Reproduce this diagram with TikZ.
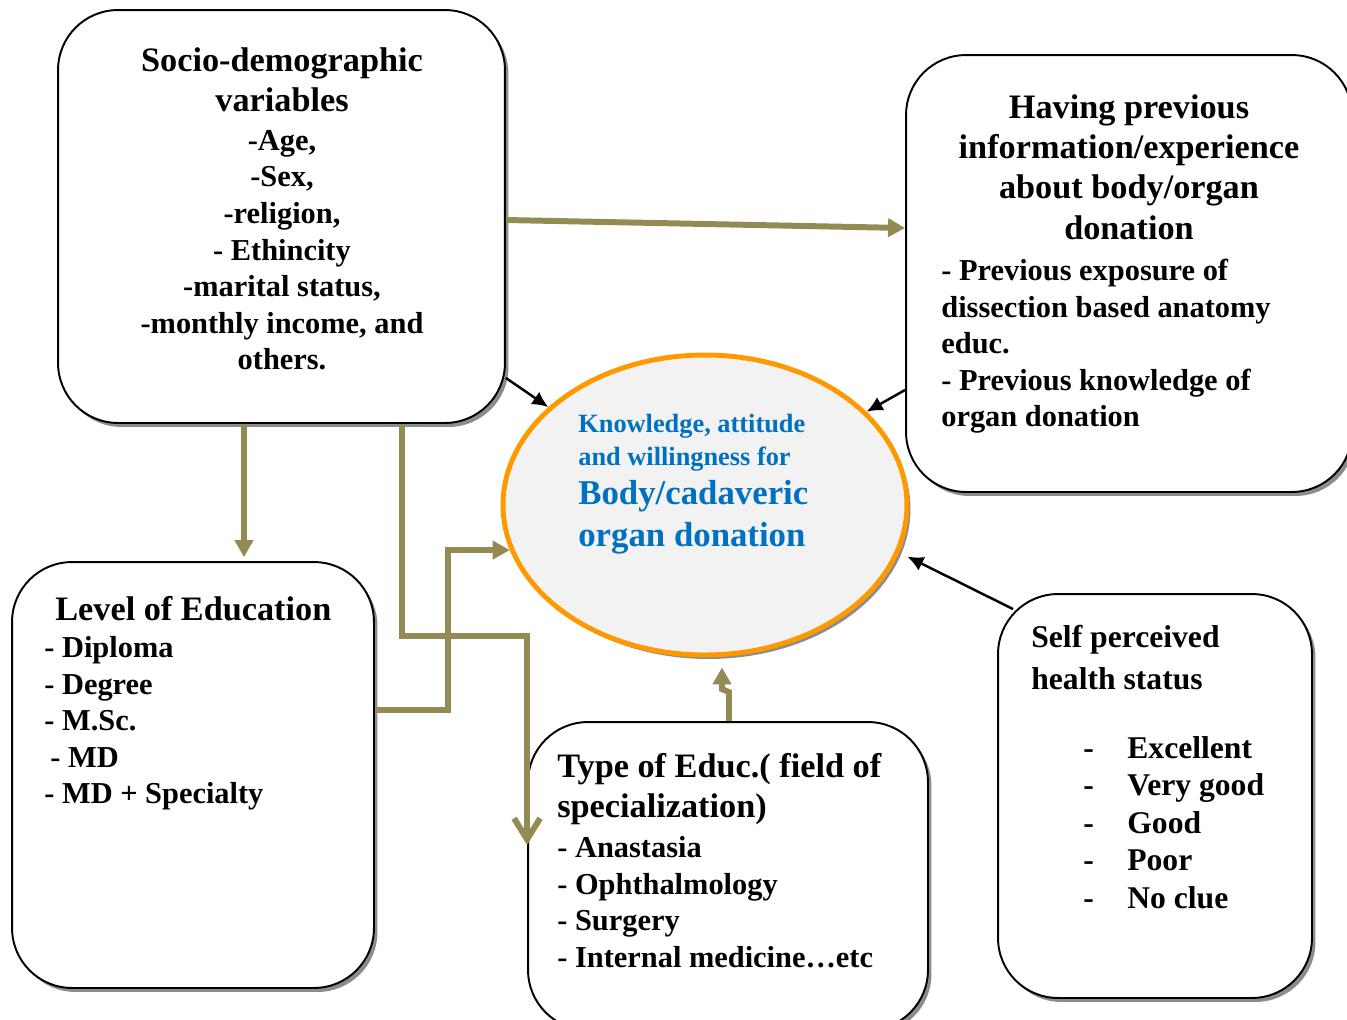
\documentclass[tikz,border=0pt]{standalone}
\usepackage{fontspec}
\setmainfont{Liberation Serif}
\usepackage{tikz}
\usetikzlibrary{arrows.meta,positioning,calc,shapes.geometric,shadows}
\definecolor{linkolive}{HTML}{948A54}
\definecolor{textblue}{HTML}{0070C0}
\definecolor{ringorange}{HTML}{FF9900}
\definecolor{bodygray}{HTML}{F2F2F2}

\begin{document}
\begin{tikzpicture}[x=0.02cm,y=-0.02cm,
  softshadow/.style={drop shadow={shadow xshift=0.07cm,shadow yshift=-0.08cm,fill=black!45,opacity=1}},
  factorbox/.style={draw,line width=1.1pt,rounded corners=1.2cm,fill=white,softshadow},
  olivelink/.style={draw=linkolive,line width=3.4pt},
  olivetip/.style={-{Triangle[length=0.34cm,width=0.36cm]}},
  blacklink/.style={draw,line width=1.4pt,-{Latex[length=0.32cm,width=0.3cm]}},
  boxtitle/.style={inner sep=0pt,font=\bfseries\fontsize{19.5}{23}\selectfont},
  boxtext/.style={inner sep=0pt,font=\bfseries\fontsize{17.3}{20.8}\selectfont}]
  \useasboundingbox (0,0) rectangle (1347,1019); % 図全体の大きさ

  % 各要因の枠
  \node[factorbox,minimum width=8.94cm,minimum height=8.26cm] (soc) at (281.5,216.5) {}; % 社会人口学的変数
  \node[factorbox,minimum width=8.92cm,minimum height=8.74cm] (info) at (1129,273.5) {}; % 以前の情報・経験（右端は図の外）
  \node[factorbox,minimum width=7.24cm,minimum height=8.52cm] (lvl) at (193,775) {}; % 教育レベル
  \node[factorbox,minimum width=8.0cm,minimum height=6.16cm] (typ) at (728,876) {}; % 専門分野（下端は図の外にはみ出す）
  \node[factorbox,minimum width=6.28cm,minimum height=8.08cm] (hlth) at (1155,796) {}; % 自覚的健康状態
  \node[ellipse,draw=ringorange,line width=2.8pt,fill=bodygray,softshadow,
    minimum width=8.08cm,minimum height=6cm] (kt) at (705,505) {}; % 中央の楕円（結果）

  % 枠の中の文字
  \node[boxtitle,align=center,anchor=north] (soctitle) at (282,47) {Socio-demographic\\variables};
  \node[boxtext,align=center,anchor=north] (socitems) at (282,130)
    {-Age,\\-Sex,\\-religion,\\- Ethincity\\-marital status,\\-monthly income, and\\others.};
  \node[boxtitle,align=center,anchor=north] (infotitle) at (1129,94)
    {Having previous\\information/experience\\about body/organ\\donation};
  \node[boxtext,align=left,anchor=north west] (infoitems) at (941,259)
    {- Previous exposure of\\dissection based anatomy\\educ.\\- Previous knowledge of\\organ donation};
  \node[inner sep=0pt,align=left,anchor=north west,text=textblue,
    font=\bfseries\fontsize{15}{18.7}\selectfont] (ktsmall) at (578,414)
    {Knowledge, attitude\\and willingness for};
  \node[inner sep=0pt,align=left,anchor=north west,text=textblue,
    font=\bfseries\fontsize{19.8}{23.8}\selectfont] (ktbig) at (578,480)
    {Body/cadaveric\\organ donation};
  \node[boxtitle,anchor=north west] (lvltitle) at (55,596) {Level of Education};
  \node[boxtext,align=left,anchor=north west] (lvlitems) at (44,636)
    {- Diploma\\- Degree\\- M.Sc.\\\hspace*{0.12cm}- MD\\- MD + Specialty};
  \node[boxtitle,align=left,anchor=north west] (typtitle) at (557,753)
    {Type of Educ.( field of\\specialization)};
  \node[boxtext,align=left,anchor=north west] (typitems) at (557,836)
    {- Anastasia\\- Ophthalmology\\- Surgery\\- Internal medicine…etc};
  \node[inner sep=0pt,align=left,anchor=north west,
    font=\bfseries\fontsize{18}{23.9}\selectfont] (hlthtitle) at (1031,625)
    {Self perceived\\health status};
  \node[inner sep=0pt,align=left,anchor=north west,
    font=\bfseries\fontsize{18}{21.3}\selectfont] (hlthitems) at (1083,736)
    {\makebox[0.88cm][l]{-}Excellent\\\makebox[0.88cm][l]{-}Very good\\\makebox[0.88cm][l]{-}Good\\
     \makebox[0.88cm][l]{-}Poor\\\makebox[0.88cm][l]{-}No clue};

  % オリーブ色の矢印
  \draw[olivelink,olivetip] ([yshift=-0.07cm]soc.east) -- ([yshift=0.91cm]info.west); % 右の枠へ
  \draw[olivelink,olivetip] ([xshift=-0.75cm]soc.south) -- ([xshift=1.02cm,yshift=0.08cm]lvl.north); % 下の枠へ
  \draw[olivelink,-{Straight Barb[length=0.42cm,width=0.52cm]}]
    ([xshift=2.41cm]soc.south) -- ++(0,212) -| ([yshift=0.62cm]typ.west); % 折れ線で専門分野の枠へ
  \draw[olivelink,olivetip] ([yshift=1.3cm]lvl.east) -- ++(73,0) |- (kt.193); % 教育レベルから楕円へ
  \draw[olivelink,olivetip] ([xshift=0.02cm]typ.north) -- ++(0,-29) -- ++(-7,-3)
    -- ([xshift=0.34cm,yshift=-0.2cm]kt.south); % 小さく折れて楕円の下へ

  % 黒い矢印
  \draw[blacklink] ([yshift=-3.23cm]soc.east) -- (kt.148);
  \draw[blacklink] ([yshift=-2.33cm]info.west) -- (kt.30);
  \draw[blacklink] ([shift={(0.32cm,-0.32cm)}]hlth.north west) -- ([xshift=0.2cm]kt.-15);
\end{tikzpicture}
\end{document}
